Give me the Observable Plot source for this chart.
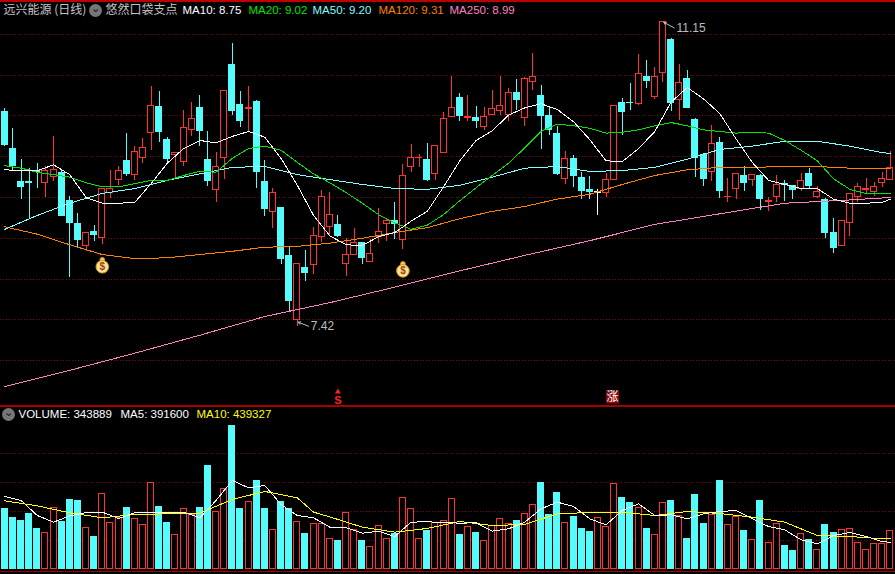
<!DOCTYPE html>
<html><head><meta charset="utf-8">
<script src="https://cdn.jsdelivr.net/npm/d3@7"></script>
<script src="https://cdn.jsdelivr.net/npm/@observablehq/plot@0.6"></script>
<style>html,body{margin:0;padding:0;background:#000;overflow:hidden}svg{display:block}</style>
</head><body><div id="c"></div>
<script>
const kinds = ("CCCCCRRCCC"+"RCRRRCRRRC"+"CRRRCCRRCC"+"RCCRCCRCRR"+"RCRRCRRRCR"+"RRCRRRCRCR"+"RRRCRRCCCR"+"CCCWRRCCRC"+"RRCRCCCRCR"+"RCRCRRCCRC"+"RCCRRRRRRR").split("");
const highs = [10.09,9.85,9.47,9.36,9.42,9.38,9.75,9.33,9.01,8.80,8.57,8.66,9.11,9.33,9.38,9.79,9.63,9.72,10.36,10.30,9.74,9.55,10.07,10.17,10.25,9.81,9.55,10.31,10.89,10.30,10.36,10.19,9.45,9.11,8.88,8.39,8.19,8.35,8.63,9.09,9.06,8.78,8.50,8.62,8.45,8.48,8.87,8.74,8.94,9.40,9.65,9.53,9.66,9.64,10.04,10.48,10.28,10.25,10.12,10.10,10.31,10.48,10.34,10.45,10.47,10.77,10.37,10.12,9.87,9.56,9.52,9.31,9.26,9.10,9.29,10.12,10.21,10.40,10.75,10.68,10.60,11.15,10.95,10.63,10.56,9.97,9.54,9.88,9.74,9.23,9.29,9.38,9.28,9.28,9.00,9.27,9.21,9.15,9.29,9.36,9.13,8.99,8.74,8.71,9.04,9.17,9.23,9.18,9.31,9.56];
const bodyTop = [10.06,9.60,9.20,9.20,9.33,9.32,9.34,9.31,8.96,8.68,8.57,8.58,9.10,9.10,9.32,9.45,9.56,9.61,10.12,10.12,9.71,9.54,9.85,9.96,10.10,9.47,9.37,10.31,10.63,10.14,10.10,10.18,9.20,9.06,8.88,8.29,8.18,8.14,8.53,9.00,8.78,8.67,8.30,8.44,8.45,8.31,8.58,8.71,8.72,9.26,9.49,9.49,9.47,9.63,9.96,10.10,10.23,9.99,9.98,9.99,10.08,10.12,10.28,10.29,10.45,10.48,10.25,10.01,9.79,9.47,9.48,9.25,9.10,9.06,9.21,10.12,10.17,10.17,10.52,10.48,10.48,11.15,10.94,10.41,10.46,9.96,9.53,9.66,9.67,9.01,9.29,9.27,9.28,9.27,8.96,9.15,9.17,9.15,9.20,9.29,9.07,8.98,8.57,8.71,9.04,9.13,9.11,9.13,9.23,9.36];
const bodyBottom = [9.64,9.38,9.12,9.17,9.31,9.18,9.25,8.77,8.68,8.47,8.40,8.53,8.50,9.06,9.21,9.28,9.28,9.49,9.79,9.80,9.47,9.52,9.43,9.83,9.81,9.20,9.09,9.48,10.06,9.93,10.08,9.31,8.85,8.82,8.24,7.72,7.50,8.07,8.17,8.52,8.64,8.52,8.19,8.30,8.25,8.21,8.51,8.67,8.67,8.48,9.37,9.48,9.21,9.29,9.55,9.99,9.99,9.97,9.93,9.86,10.01,10.06,10.01,10.19,9.97,10.42,9.99,9.82,9.28,9.23,9.26,9.07,9.06,9.06,9.05,9.21,10.04,10.15,10.15,10.42,10.23,10.53,10.15,10.20,10.09,9.48,9.22,9.31,9.07,9.00,9.10,9.17,9.22,8.98,8.94,9.01,9.15,9.09,9.11,9.13,9.01,8.56,8.37,8.41,8.69,9.00,9.09,9.07,9.18,9.22];
const lows = [9.63,9.32,8.98,8.73,9.11,9.00,9.20,8.77,8.02,8.37,8.34,8.46,8.42,8.99,9.15,9.26,9.21,9.42,9.58,9.67,9.40,9.22,9.38,9.75,9.63,9.13,8.94,9.22,10.01,9.86,9.80,9.11,8.77,8.62,8.18,7.60,7.42,7.97,8.06,8.45,8.53,8.51,8.03,8.29,8.18,8.21,8.44,8.46,8.48,8.36,9.31,9.37,9.20,9.21,9.55,9.99,9.93,9.93,9.85,9.82,10.01,10.01,9.93,10.07,9.87,10.31,9.59,9.76,9.27,9.16,9.12,8.98,8.98,8.78,9.00,9.21,9.76,10.07,10.13,10.34,10.20,10.41,10.06,9.94,10.09,9.25,9.13,9.20,8.99,8.94,8.98,9.07,9.13,8.84,8.83,8.94,8.95,8.98,9.07,9.10,8.99,8.50,8.31,8.41,8.52,8.94,9.05,9.01,9.12,9.22];
const volumes = [841,717,676,772,566,506,851,667,966,952,575,455,1044,644,704,855,699,616,1195,869,648,478,837,745,855,1435,795,1113,1986,841,933,1228,841,547,938,841,658,497,630,630,423,400,782,547,400,313,602,423,501,989,837,423,538,644,671,975,483,589,510,395,598,699,630,676,768,892,1200,759,1062,644,731,566,524,713,593,1182,993,924,851,566,478,920,952,736,428,1035,635,745,1228,616,726,538,409,952,368,630,331,262,492,409,271,621,510,547,561,368,271,354,354,533];

const evenIdx = [0,2,4,6,8,10,12,14,16,18,20,22,24,26,28,30,32,34,36,38,40,42,44,46,48,50,52,54,56,58,60,62,64,66,68,70,72,74,76,78,80,82,84,86,88,90,92,94,96,98,100,102,104,106,108,109];
const ma10 = [9.34,9.33,9.33,9.40,9.28,9.00,8.93,8.93,8.94,9.17,9.42,9.60,9.70,9.67,9.75,9.81,9.74,9.48,9.15,8.78,8.53,8.42,8.41,8.52,8.57,8.71,8.83,9.13,9.45,9.70,9.82,10.01,10.10,10.15,10.08,9.93,9.71,9.45,9.44,9.60,9.81,10.17,10.35,10.21,10.03,9.72,9.43,9.21,9.16,9.11,9.11,8.98,8.93,8.93,8.94,8.98];
const ma20 = [9.39,9.36,9.31,9.28,9.25,9.18,9.13,9.13,9.17,9.21,9.21,9.27,9.32,9.31,9.48,9.60,9.63,9.58,9.43,9.29,9.18,9.06,8.93,8.79,8.69,8.61,8.66,8.79,8.96,9.12,9.27,9.42,9.61,9.81,9.90,9.88,9.85,9.79,9.80,9.83,9.88,9.92,9.88,9.83,9.81,9.79,9.80,9.79,9.70,9.58,9.45,9.23,9.10,9.05,9.05,9.05];
const slowIdx = [0,4,8,12,16,20,24,28,32,36,40,44,48,52,56,60,64,68,72,76,80,84,88,92,96,100,104,108,109];
const ma50 = [8.61,8.78,8.93,9.05,9.11,9.21,9.29,9.37,9.38,9.28,9.22,9.16,9.11,9.10,9.15,9.25,9.36,9.38,9.32,9.33,9.37,9.47,9.59,9.63,9.69,9.69,9.63,9.55,9.54];
const ma120 = [8.64,8.55,8.42,8.30,8.25,8.26,8.30,8.34,8.39,8.40,8.44,8.50,8.57,8.63,8.74,8.83,8.89,8.98,9.04,9.16,9.27,9.34,9.37,9.37,9.38,9.38,9.36,9.36,9.36];
const ma250Idx = [0,8,16,24,32,40,48,56,64,72,80,88,96,104,109];
const ma250 = [6.68,6.88,7.09,7.31,7.54,7.71,7.90,8.10,8.29,8.47,8.67,8.80,8.93,8.97,9.00];

const volMa5Idx = evenIdx;
const volMa5 = [1007,952,745,653,740,786,791,704,782,791,791,791,713,952,1228,1126,1159,897,745,713,584,575,501,529,455,653,658,648,639,644,529,561,653,837,929,869,699,616,814,906,745,754,699,768,800,814,699,593,547,409,354,469,510,455,382,377];
const volMa10Idx = [0,4,8,12,16,20,24,28,32,36,38,40,44,48,52,56,60,64,68,72,76,80,84,88,92,96,100,104,108,109];
const volMa10 = [947,878,782,713,759,768,777,966,1076,989,791,726,584,515,566,662,607,621,768,786,791,745,800,772,722,653,469,455,423,432];

const priceTicks = [7,7.5,8,8.5,9,9.5,10,10.5,11];
const volumeTicks = [400,800,1200,1600];
const bagIdx = [12,49], bagPrice = [8.15,8.10];
const extremes = [{i:81,p:11.15,lp:11.08,t:"11.15"},{i:36,p:7.47,lp:7.42,t:"7.42"}];

const CYAN="#54fcfc", RED="#ff3232", GRID="#840000", EDGE="#a80000";
const crisp = {shapeRendering:"crispEdges"};
const FONT = "'Liberation Sans', Arial, sans-serif";
const CJK = "'Noto Sans CJK SC', sans-serif";
const x = {type:"linear", domain:[-0.5293,109.625], range:[0,895], axis:null};
const idx = d3.range(kinds.length);
const series = (ix, vs) => ix.map((i,k)=>({i, v:vs[k]}));
const maLine = (ix, vs, stroke) => Plot.line(series(ix,vs), {x:"i", y:"v", stroke, strokeWidth:1, curve:"linear", ...crisp});
const label = (t, dx, dy, fill, font=FONT, size=11.5) => Plot.text([t], {frameAnchor:"top-left", dx, dy, text:d=>d, fill, fontFamily:font, fontSize:size, textAnchor:"start", lineAnchor:"middle"});
const icon = (dx, dy) => [
  Plot.dot([0], {frameAnchor:"top-left", dx, dy, r:6.5, fill:"#767676"}),
  Plot.text(["⌄"], {frameAnchor:"top-left", dx, dy:dy-2, text:d=>d, fill:"#262626", fontFamily:"DejaVu Sans", fontSize:11, fontWeight:"bold", textAnchor:"middle", lineAnchor:"middle"})
];

const upper = Plot.plot({
  width:895, height:405, margin:0, x,
  y:{type:"linear", domain:[6.448,11.417], range:[405,0], axis:null},
  style:{background:"#000", display:"block"},
  marks:[
    Plot.ruleY(priceTicks, {stroke:GRID, strokeWidth:1, strokeDasharray:"0.9,2.1", ...crisp}),
    Plot.ruleY([11.417], {stroke:"#c00000", strokeWidth:3, ...crisp}),
    Plot.ruleX(idx, {x:d=>d, y1:d=>lows[d], y2:d=>highs[d], stroke:d=>kinds[d]==="C"?CYAN:kinds[d]==="W"?"#fff":RED, strokeWidth:1, ...crisp}),
    Plot.rect(idx.filter(d=>kinds[d]==="C"), {x1:d=>d-0.43, x2:d=>d+0.43, y1:d=>bodyBottom[d], y2:d=>bodyTop[d], fill:CYAN, ...crisp}),
    Plot.rect(idx.filter(d=>kinds[d]==="R"), {x1:d=>d-0.37, x2:d=>d+0.37, y1:d=>bodyBottom[d], y2:d=>bodyTop[d], fill:"#000", stroke:RED, strokeWidth:1, ...crisp}),
    Plot.rect(idx.filter(d=>kinds[d]==="W"), {x1:d=>d-0.37, x2:d=>d+0.37, y1:d=>bodyBottom[d], y2:d=>bodyTop[d]+0.012, fill:"#fff", stroke:"#fff", strokeWidth:1, ...crisp}),
    maLine(ma250Idx, ma250, "#ff80c0"),
    maLine(slowIdx, ma120, "#ff8000"),
    maLine(slowIdx, ma50, "#80ffff"),
    maLine(evenIdx, ma20, "#00e600"),
    maLine(evenIdx, ma10, "#ffffff"),
    // extreme price annotations
    Plot.arrow(extremes, {x1:d=>d.i+1.4, x2:d=>d.i+0.1, y1:"lp", y2:"p", stroke:"#bdbdbd", strokeWidth:1, headLength:4, bend:0}),
    Plot.text(extremes, {x:"i", y:"lp", text:"t", dx:13.5, fill:"#bdbdbd", fontFamily:FONT, fontSize:12, textAnchor:"start", letterSpacing:0.5}),
    // money bags
    Plot.dot(bagIdx.map((i,k)=>({i,p:bagPrice[k]+0.085})), {x:"i", y:"p", r:2.4, fill:"#f6d25a", stroke:"#d48a14", strokeWidth:1}),
    Plot.dot(bagIdx.map((i,k)=>({i,p:bagPrice[k]})), {x:"i", y:"p", r:6.3, fill:"#fbe48c", stroke:"#d39a14", strokeWidth:1}),
    Plot.text(bagIdx.map((i,k)=>({i,p:bagPrice[k]})), {x:"i", y:"p", text:()=>"$", fill:"#a03c28", fontFamily:FONT, fontSize:10, fontWeight:"bold"}),
    // signal marks
    Plot.dot([{i:41,p:6.615}], {x:"i", y:"p", r:2.2, symbol:"triangle", fill:"#ff2020"}),
    Plot.text([{i:41,p:6.505}], {x:"i", y:"p", text:()=>"S", fill:"#ff2020", fontFamily:FONT, fontSize:11, fontWeight:"bold"}),
    Plot.dot([{i:74.8,p:6.55}], {x:"i", y:"p", r:7.3, symbol:"square", fill:"#8a0808"}),
    Plot.text([{i:74.8,p:6.55}], {x:"i", y:"p", text:()=>"涨", fill:"#fff", fontFamily:CJK, fontSize:12}),
    // header
    label("远兴能源 (日线)", 3, 10, "#c4c4c4", CJK, 12),
    ...icon(95, 10),
    label("悠然口袋支点", 105, 10, "#c4c4c4", CJK, 12),
    label("MA10: 8.75", 182, 10, "#ffffff"),
    label("MA20: 9.02", 248, 10, "#00e600"),
    label("MA50: 9.20", 312, 10, "#80ffff"),
    label("MA120: 9.31", 378, 10, "#ff8000"),
    label("MA250: 8.99", 449, 10, "#ff80c0")
  ]
});

const lower = Plot.plot({
  width:895, height:169, margin:0, x,
  y:{type:"linear", domain:[-69,2262], range:[169,0], axis:null},
  style:{background:"#000", display:"block"},
  marks:[
    Plot.ruleY(volumeTicks, {stroke:GRID, strokeWidth:1, strokeDasharray:"0.9,2.1", ...crisp}),
    Plot.ruleY([2262], {stroke:EDGE, strokeWidth:2, ...crisp}),
    Plot.ruleY([-28], {stroke:EDGE, strokeWidth:1, ...crisp}),
    Plot.rect(idx.filter(d=>kinds[d]==="C"), {x1:d=>d-0.43, x2:d=>d+0.43, y1:0, y2:d=>volumes[d], fill:CYAN, ...crisp}),
    Plot.rect(idx.filter(d=>kinds[d]!=="C"), {x1:d=>d-0.37, x2:d=>d+0.37, y1:0, y2:d=>volumes[d], fill:"#000", stroke:RED, strokeWidth:1, ...crisp}),
    maLine(volMa10Idx, volMa10, "#ffff00"),
    maLine(volMa5Idx, volMa5, "#ffffff"),
    ...icon(8, 9),
    label("VOLUME: 343889", 18, 9, "#ffffff"),
    label("MA5: 391600", 120, 9, "#ffffff"),
    label("MA10: 439327", 196, 9, "#ffff00")
  ]
});
const host = document.getElementById("c");
host.append(upper, lower);
</script></body></html>
